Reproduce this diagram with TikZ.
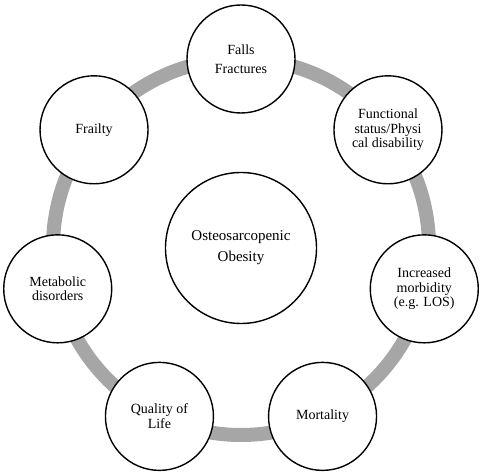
\documentclass[tikz,border=0pt]{standalone}
\usepackage{fontspec}
\setmainfont{Liberation Serif}
\usepackage{tikz}
\usetikzlibrary{calc}

\tikzset{
    topic/.style={circle, draw=black, line width=1.4pt, fill=white, minimum size=108pt, inner sep=0pt, align=center, font=\fontsize{14}{14.5}\selectfont},
    core/.style={circle, draw=black, line width=1.4pt, fill=white, minimum size=151pt, inner sep=0pt, align=center, font=\fontsize{15}{21}\selectfont},
    ring/.style={line width=14pt, draw=black!35}
}

\begin{document}
\begin{tikzpicture}[x=1pt, y=1pt]
    \useasboundingbox (0,0) rectangle (490,474);
    % Ring behind the outer circles
    \coordinate (hub) at (241,227);
    \draw[ring] (hub) circle (188);
    % Centre
    \node[core] (osteo) at (241,226) {Osteosarcopenic\\Obesity};
    % Outer circles, clockwise from the top
    \node[topic] (falls) at ($(hub)+(90:188)$) {Falls\\[5pt]Fractures};
    \node[topic] (functional) at ($(hub)+(38.57:188)$) {Functional\\status/Physi\\cal disability};
    \node[topic] (morbidity) at ($(hub)+(-12.86:188)$) {Increased\\morbidity\\(e.g. LOS)};
    \node[topic] (mortality) at ($(hub)+(-64.29:188)$) {Mortality};
    \node[topic] (quality) at ($(hub)+(-115.71:188)$) {Quality of\\Life};
    \node[topic] (metabolic) at ($(hub)+(-167.14:188)$) {Metabolic\\disorders};
    \node[topic] (frailty) at ($(hub)+(141.43:188)$) {Frailty};
\end{tikzpicture}
\end{document}
